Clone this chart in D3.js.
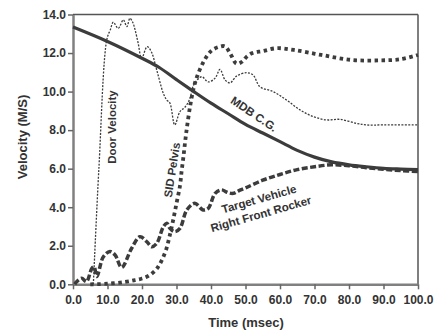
<!DOCTYPE html>
<head>
    <meta charset="utf-8">
    <style>
        body { margin: 0; background: #fff; }
        text { font-family: "Liberation Sans", Arial, sans-serif; font-weight: bold; fill: #333; }
    </style>
    <script src="https://d3js.org/d3.v7.min.js"></script>
</head>
<body>
    <div id="block"></div>
    <script>

        // values: time (msec) / velocity (m/s)
        var mdb_t = [0, 10, 20, 25, 30, 35, 40, 45, 50, 55, 60, 65, 70, 75, 80, 85, 90, 95, 100];
        var mdb_v = [13.35, 12.6, 11.73, 11.25, 10.62, 10.0, 9.4, 8.85, 8.3, 7.85, 7.4, 6.95, 6.6, 6.35, 6.2, 6.1, 6.02, 5.98, 5.95];

        var door_t = [5.9, 7.5, 9.8, 10.8, 11.7, 13.1, 14.6, 15.6, 16.5, 17.3, 18, 18.9, 19.9, 21.5, 22.7, 24.3, 26.2, 27.2, 28.1, 29.5, 31, 32.5, 33.9, 35, 37.3, 39.2, 41.2, 42.6, 44.1, 45.5, 47.4, 50.3, 52.2, 54.2, 58, 61.9, 65.8, 69.7, 73.5, 77.4, 82.2, 85.1, 90, 100];
        var door_v = [0, 6.0, 12.7, 13.2, 13.6, 13.28, 13.72, 13.37, 13.8, 13.6, 13.2, 12.5, 11.73, 12.33, 12.07, 11.1, 9.9, 9.56, 9.4, 8.27, 8.96, 9.2, 9.65, 10.35, 10.77, 10.5, 10.7, 11.15, 10.6, 10.45, 10.8, 10.98, 10.86, 10.25, 10.0, 9.56, 9.05, 8.7, 8.53, 8.56, 8.35, 8.27, 8.27, 8.27];

        var pelvis_t = [5, 10, 15, 18, 20, 22, 24, 25, 26, 27, 28, 29, 30, 31, 31.5, 32, 32.5, 33, 34, 35, 36, 38, 40, 42, 44, 45.5, 47.4, 49, 50.3, 52, 55, 59, 64, 72, 81, 89, 95, 100];
        var pelvis_v = [0, 0.03, 0.12, 0.22, 0.3, 0.45, 0.75, 1.0, 1.35, 1.8, 2.5, 3.3, 4.2, 5.1, 5.9, 6.6, 7.4, 8.1, 9.3, 10.2, 10.8, 11.6, 12.1, 12.3, 12.35, 12.0, 11.45, 11.55, 11.8, 12.0, 12.1, 12.25, 12.16, 11.9, 11.64, 11.62, 11.68, 11.9];

        var rocker_t = [0.5, 1.1, 2.5, 3.9, 5.4, 6.1, 6.9, 8.8, 10.7, 12.2, 14.1, 17, 19.4, 21.4, 22.8, 24.3, 26.2, 27.2, 28.1, 29.5, 31, 33, 35.3, 37.7, 39.2, 41.2, 43, 45, 46.5, 48, 50, 55, 60, 65, 70, 75, 80, 85, 90, 95, 100];
        var rocker_v = [0, 0.14, 0.31, 0.14, 0.8, 0.91, 0.4, 1.43, 1.7, 1.52, 0.88, 1.87, 2.47, 2.21, 1.95, 2.13, 2.99, 3.17, 2.9, 2.73, 2.9, 3.86, 4.2, 3.86, 3.94, 4.72, 4.9, 4.75, 4.72, 4.85, 5.0, 5.4, 5.7, 5.95, 6.1, 6.2, 6.15, 6.05, 5.97, 5.9, 5.85];

        var x_ticks = [0, 10, 20, 30, 40, 50, 60, 70, 80, 90, 100];
        var y_ticks = [0, 2, 4, 6, 8, 10, 12, 14];

        var w = 439,
            h = 333;

        var svg = d3.select("#block")
                    .append("svg")
                    .attr("width", w)
                    .attr("height", h);

        var x = d3.scaleLinear().domain([0, 100]).range([73, 418]);
        var y = d3.scaleLinear().domain([0, 14]).range([284.3, 14.5]);

        var format = d3.format(".1f");

        // frame on top and right
        svg.append("line")
           .attr("x1", x(0)).attr("x2", x(100))
           .attr("y1", y(14)).attr("y2", y(14))
           .attr("stroke", "#555").attr("stroke-width", 1.5);
        svg.append("line")
           .attr("x1", x(100)).attr("x2", x(100))
           .attr("y1", y(14)).attr("y2", y(0))
           .attr("stroke", "#555").attr("stroke-width", 1.5);

        var yAxis = svg.append("g")
           .attr("transform", "translate(" + x(0) + ",0)")
           .call(d3.axisLeft(y).tickValues(y_ticks).tickFormat(format)
                   .tickSize(5).tickSizeOuter(0).tickPadding(2));

        var xAxis = svg.append("g")
           .attr("transform", "translate(0," + y(0) + ")")
           .call(d3.axisBottom(x).tickValues(x_ticks).tickFormat(format)
                   .tickSize(5).tickSizeOuter(0).tickPadding(6));

        [yAxis, xAxis].forEach(function(a) {
            a.select(".domain").attr("stroke", "#808080").attr("stroke-width", 2.5);
            a.selectAll(".tick line").attr("stroke", "#666").attr("stroke-width", 1.5);
            a.selectAll(".tick text").style("font-size", "12px").attr("fill", "#333");
        });

        // curves
        function series(t, v) {
            return t.map(function(d, i) { return [d, v[i]]; });
        }

        var line = d3.line()
                     .x(function(d) { return x(d[0]); })
                     .y(function(d) { return y(d[1]); })
                     .curve(d3.curveCatmullRom.alpha(0.5));

        var curves = [
            { data: series(door_t, door_v), width: 1.3, dash: "2,1.4" },
            { data: series(rocker_t, rocker_v), width: 3.5, dash: "6,2.5" },
            { data: series(pelvis_t, pelvis_v), width: 3.8, dash: "3.5,3.5" },
            { data: series(mdb_t, mdb_v), width: 3.2, dash: null }
        ];

        svg.selectAll("path.curve")
           .data(curves)
           .enter()
           .append("path")
           .attr("class", "curve")
           .attr("d", function(d) { return line(d.data); })
           .attr("fill", "none")
           .attr("stroke", "#3c3c3c")
           .attr("stroke-width", function(d) { return d.width; })
           .attr("stroke-dasharray", function(d) { return d.dash; });

        // labels
        function label(txt, cx, cy, angle, size) {
            svg.append("text")
               .attr("transform", "translate(" + cx + "," + cy + ") rotate(" + angle + ")")
               .attr("text-anchor", "middle")
               .attr("dy", "0.35em")
               .style("font-size", size + "px")
               .text(txt);
        }

        label("Velocity (M/S)", 22, 137, -90, 13);
        label("Time (msec)", 246, 322, 0, 13);
        label("Door Velocity", 112, 127, -90, 11.5);
        label("SID Pelvis", 172, 170, -81, 11.5);
        label("MDB C.G.", 254, 114, 34, 11.5);
        label("Target Vehicle", 259, 199, -16, 11.5);
        label("Right Front Rocker", 261, 214, -16, 11.5);

    </script>
</body>
